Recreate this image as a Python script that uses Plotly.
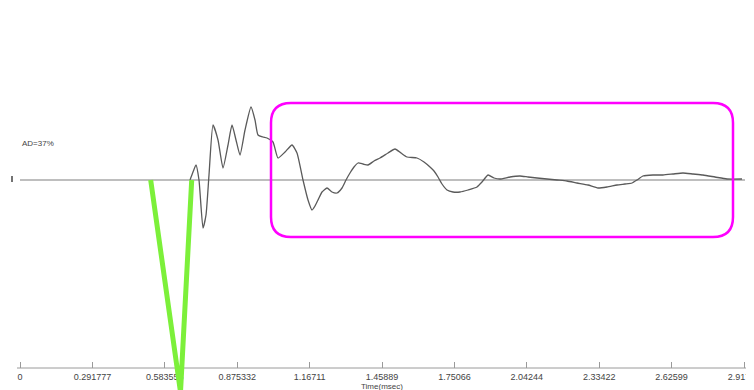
import plotly.graph_objects as go

# ---- data ----
tick_vals = [0, 0.291777, 0.583555, 0.875332, 1.16711, 1.45889, 1.75066,
             2.04244, 2.33422, 2.62599, 2.91777]
tick_text = ["0", "0.291777", "0.583555", "0.875332", "1.16711", "1.45889",
             "1.75066", "2.04244", "2.33422", "2.62599", "2.91777"]

wave_t = [0.6851, 0.6972, 0.7093, 0.7214, 0.7375, 0.7496, 0.7617, 0.7778,
          0.7980, 0.8181, 0.8383, 0.8544, 0.8705, 0.8866, 0.9068, 0.9310,
          0.9471, 0.9592, 0.9793, 0.9954, 1.0196, 1.0398, 1.0680, 1.0962,
          1.1163, 1.1405, 1.1607, 1.1768, 1.1889, 1.2010, 1.2171, 1.2372,
          1.2574, 1.2775, 1.2977, 1.3138, 1.3299, 1.3460, 1.3622, 1.3823,
          1.4025, 1.4266, 1.4508, 1.4831, 1.5113, 1.5355, 1.5596, 1.5999,
          1.6282, 1.6523, 1.6684, 1.6846, 1.7007, 1.7208, 1.7450, 1.7732,
          1.8055, 1.8417, 1.8619, 1.8861, 1.9103, 1.9344, 1.9747, 2.0150,
          2.0473, 2.0835, 2.1238, 2.1641, 2.2044, 2.2447, 2.2891, 2.3294,
          2.3657, 2.4060, 2.4382, 2.4664, 2.4866, 2.5107, 2.5510, 2.5913,
          2.6316, 2.6719, 2.7122, 2.7525, 2.8009, 2.8492, 2.9097]
wave_a = [0, 0.08, 0.15, 0, -0.48, -0.35, 0.05, 0.55,
          0.40, 0.12, 0.35, 0.55, 0.40, 0.25, 0.50, 0.73,
          0.60, 0.45, 0.43, 0.42, 0.38, 0.22, 0.28, 0.35,
          0.27, 0, -0.20, -0.30, -0.26, -0.20, -0.12, -0.08,
          -0.12, -0.13, -0.08, 0, 0.07, 0.13, 0.17, 0.16,
          0.15, 0.19, 0.22, 0.27, 0.31, 0.27, 0.23, 0.22,
          0.18, 0.13, 0.09, 0.03, -0.04, -0.10, -0.12, -0.12,
          -0.10, -0.07, -0.02, 0.05, 0.02, 0.01, 0.03, 0.04,
          0.03, 0.02, 0.01, 0, -0.01, -0.03, -0.05, -0.08,
          -0.07, -0.05, -0.04, -0.03, 0, 0.04, 0.05, 0.05,
          0.06, 0.07, 0.06, 0.05, 0.03, 0.01, 0.01]

stim_t = [0.5267, 0.6468, 0.6920]
stim_a = [0, -2.12, 0]

label_text = "AD=37%"
axis_title = "Time(msec)"

# ---- layout helpers (page pixels -> paper; page body has an 8px margin) ----
W, H, OFF = 754, 390, 8


def px(p):
    return (p - OFF) / W


def py(p):
    return 1 - (p - OFF) / H


k = 2.91777 / 724  # msec per page pixel

fig = go.Figure()

# zero reference line (baseline of the recording)
fig.add_shape(type="line", xref="x", yref="y", x0=tick_vals[0], x1=2.9218,
              y0=0, y1=0, line=dict(color="#a8a8a8", width=1.6), layer="below")
# x axis baseline
fig.add_shape(type="line", xref="paper", yref="paper", x0=px(17), x1=1.02,
              y0=py(368), y1=py(368), line=dict(color="#9a9a9a", width=1),
              layer="below")
# small left marker
fig.add_shape(type="line", xref="paper", yref="paper", x0=px(12), x1=px(12),
              y0=py(176), y1=py(182), line=dict(color="#444", width=1.5))

fig.add_trace(go.Scatter(x=wave_t, y=wave_a, mode="lines",
                         line=dict(color="#5a5a5a", width=1.3, shape="spline",
                                   smoothing=0.5),
                         hoverinfo="skip", showlegend=False))
fig.add_trace(go.Scatter(x=stim_t, y=stim_a, mode="lines",
                         line=dict(color="#7cf03a", width=5),
                         hoverinfo="skip", showlegend=False))

# rounded magenta box
x0, x1, y0, y1 = px(271), px(733), py(237), py(103)
rx, ry = 20 / W, 20 / H
path = (f"M {x0+rx},{y1} L {x1-rx},{y1} Q {x1},{y1} {x1},{y1-ry} "
        f"L {x1},{y0+ry} Q {x1},{y0} {x1-rx},{y0} L {x0+rx},{y0} "
        f"Q {x0},{y0} {x0},{y0+ry} L {x0},{y1-ry} Q {x0},{y1} {x0+rx},{y1} Z")
fig.add_shape(type="path", xref="paper", yref="paper", path=path,
              line=dict(color="#ff00ff", width=2.5))

fig.add_annotation(x=px(20), y=py(143), xref="paper", yref="paper",
                   text=label_text, showarrow=False, xanchor="left",
                   font=dict(family="Liberation Sans", size=8, color="#444"))
fig.add_annotation(x=px(382), y=py(386), xref="paper", yref="paper",
                   text=axis_title, showarrow=False, yanchor="middle",
                   font=dict(family="Liberation Sans", size=8, color="#444"))

fig.update_layout(
    width=W, height=H,
    margin=dict(l=0, r=0, t=0, b=0, autoexpand=False),
    paper_bgcolor="white", plot_bgcolor="white",
    xaxis=dict(range=[(OFF - 20) * k, (OFF + W - 20) * k],
               tickvals=tick_vals, ticktext=tick_text,
               anchor="free", position=py(368),
               showline=False, ticks="inside", ticklen=6,
               tickcolor="#9a9a9a", showgrid=False, zeroline=False,
               layer="below traces", ticklabeloverflow="allow",
               ticklabelstandoff=2,
               tickfont=dict(family="Liberation Sans", size=9, color="#444")),
    yaxis=dict(range=[(180 - OFF - H) / 100, (180 - OFF) / 100],
               visible=False, showgrid=False, zeroline=False),
)

fig.write_html("out.html")
